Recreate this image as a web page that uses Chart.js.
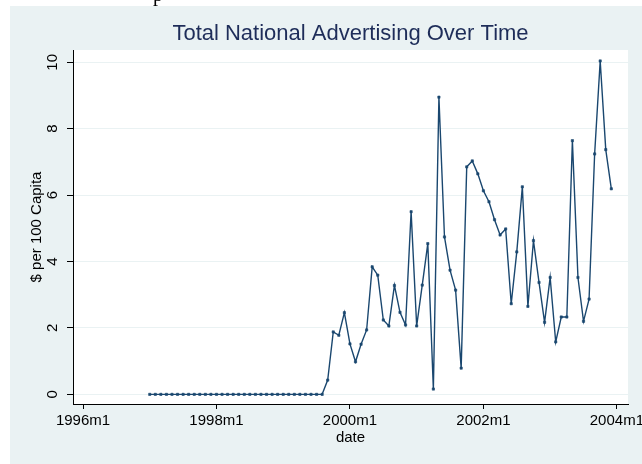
<!DOCTYPE html>
<html>
<head>
<meta charset="utf-8">
<script src="https://cdn.jsdelivr.net/npm/chart.js@4/dist/chart.umd.min.js"></script>
<style>
    html, body { margin: 0; padding: 0; background: #fff; }
    #wrap { position: relative; width: 642px; height: 464px; }
    #frag { position: absolute; left: 153px; top: 0; width: 20px; height: 6px; overflow: hidden;
            font-family: "Liberation Serif", serif; font-size: 20px; line-height: 20px; }
    #frag span { position: absolute; left: 0; top: -16px; }
</style>
</head>
<body>
<div id="wrap">
    <canvas id="adChart" width="642" height="464"></canvas>
    <div id="frag"><span>p</span></div>
</div>
<script>
// data bulanan mulai 1997m1 (indeks bulan dihitung dari 1996m1)
const firstYear = 1997;
const adSpend = [
    0, 0, 0, 0, 0, 0, 0, 0, 0, 0, 0, 0,          // 1997
    0, 0, 0, 0, 0, 0, 0, 0, 0, 0, 0, 0,          // 1998
    0, 0, 0, 0, 0, 0, 0, 0, 0.43, 1.88, 1.78, 2.46, // 1999
    1.52, 0.98, 1.51, 1.94, 3.84, 3.59, 2.24, 2.06, 3.28, 2.47, 2.09, 5.50, // 2000
    2.06, 3.29, 4.54, 0.16, 8.95, 4.74, 3.74, 3.14, 0.79, 6.85, 7.03, 6.64, // 2001
    6.13, 5.80, 5.26, 4.80, 4.98, 2.73, 4.29, 6.25, 2.65, 4.63, 3.37, 2.17, // 2002
    3.52, 1.58, 2.33, 2.33, 7.64, 3.52, 2.20, 2.87, 7.24, 10.04, 7.37, 6.19 // 2003
];
const xTickMonths = [0, 24, 48, 72, 96];
const xTickLabels = ['1996m1', '1998m1', '2000m1', '2002m1', '2004m1'];
const yTickValues = [0, 2, 4, 6, 8, 10];

// label tanggal (kategori) dan posisi bulan
const dates = adSpend.map((v, i) => (firstYear + Math.floor(i / 12)) + 'm' + (i % 12 + 1));
const points = adSpend.map((v, i) => ({ x: (firstYear - 1996) * 12 + i, y: v }));

const bgColor = '#EAF2F3';
const lineColor = '#1a476f';

Chart.defaults.font.family = '"Liberation Sans", Arial, sans-serif';

// latar belakang gaya Stata
const backgroundPlugin = {
    id: 'stataBg',
    beforeDraw(chart) {
        const { ctx, chartArea } = chart;
        ctx.save();
        ctx.fillStyle = '#ffffff';
        ctx.fillRect(0, 0, chart.width, chart.height);
        ctx.fillStyle = bgColor;
        ctx.fillRect(10, 6, chart.width - 10, chart.height - 6);
        ctx.fillStyle = '#ffffff';
        ctx.fillRect(chartArea.left, chartArea.top, chartArea.right - chartArea.left, chartArea.bottom - chartArea.top);
        ctx.restore();
    }
};

// label sumbu y diputar 90 derajat
const yLabelPlugin = {
    id: 'yLabels',
    afterDraw(chart) {
        const { ctx } = chart;
        const yScale = chart.scales.y;
        ctx.save();
        ctx.font = '15px "Liberation Sans", Arial, sans-serif';
        ctx.fillStyle = '#000';
        ctx.textAlign = 'center';
        ctx.textBaseline = 'middle';
        yTickValues.forEach(v => {
            ctx.save();
            ctx.translate(53, yScale.getPixelForValue(v));
            ctx.rotate(-Math.PI / 2);
            ctx.fillText(String(v), 0, 0);
            ctx.restore();
        });
        ctx.restore();
    }
};

new Chart(document.getElementById('adChart').getContext('2d'), {
    type: 'line',
    data: {
        labels: dates,
        datasets: [{
            label: 'adSpend',
            data: points,
            borderColor: lineColor,
            backgroundColor: lineColor,
            borderWidth: 1.4,
            tension: 0,
            fill: false,
            pointStyle: 'rect',
            pointRadius: 1.6,
            pointBorderWidth: 0.6
        }]
    },
    options: {
        responsive: false,
        animation: false,
        layout: { padding: { left: 0, right: 14, top: 0, bottom: 0 } },
        plugins: {
            legend: { display: false },
            tooltip: { enabled: false },
            title: {
                display: true,
                text: 'Total National Advertising Over Time',
                fullSize: false,
                color: '#1e2d59',
                font: { size: 22, weight: 'normal' },
                padding: { top: 21, bottom: 2.6 }
            }
        },
        scales: {
            x: {
                type: 'linear',
                min: -1.8,
                max: 98,
                afterBuildTicks: s => { s.ticks = xTickMonths.map(v => ({ value: v })); },
                afterFit: s => { s.height = 60; s.paddingLeft = 0; s.paddingRight = 0; },
                ticks: {
                    autoSkip: false,
                    maxRotation: 0,
                    color: '#000',
                    padding: 3,
                    font: { size: 15 },
                    callback: (v, i) => xTickLabels[i]
                },
                grid: { drawOnChartArea: false, tickLength: 5, tickColor: '#000' },
                border: { color: '#000', width: 1 },
                title: { display: true, text: 'date', color: '#000', font: { size: 15 }, padding: { top: 0, bottom: 17 } }
            },
            y: {
                min: -0.29,
                max: 10.37,
                afterBuildTicks: s => { s.ticks = yTickValues.map(v => ({ value: v })); },
                afterFit: s => { s.width = 73; s.paddingTop = 0; s.paddingBottom = 0; },
                ticks: { display: false },
                grid: { color: bgColor, lineWidth: 1, tickLength: 6, tickColor: '#000' },
                border: { color: '#000', width: 1 },
                title: { display: true, text: '$ per 100 Capita', color: '#000', font: { size: 15 }, padding: { top: 28, bottom: 0 } }
            }
        }
    },
    plugins: [backgroundPlugin, yLabelPlugin]
});
</script>
</body>
</html>
